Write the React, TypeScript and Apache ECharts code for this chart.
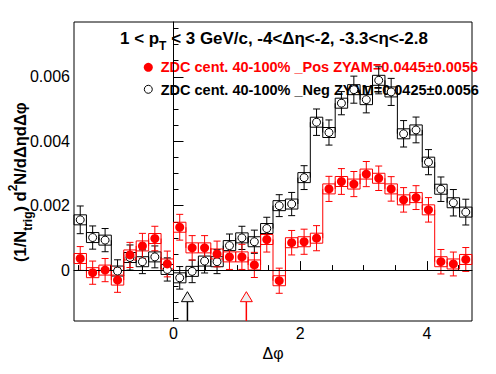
import React, { useEffect, useRef } from "react";
import * as echarts from "echarts";

const FONT = "'Liberation Sans', Arial, Helvetica, sans-serif";

const X_MIN = -Math.PI / 2;
const X_MAX = 1.5 * Math.PI;
const Y_MIN = -0.00158;
const Y_MAX = 0.0077;

const posName = "ZDC cent. 40-100% _Pos ZYAM=0.0445±0.0056";
const negName = "ZDC cent. 40-100% _Neg ZYAM=0.0425±0.0056";

const posValues = [
  0.00036, -0.00008, 0.0, -0.00031, 0.00047, 0.00075, 0.00098, 0.00019,
  0.00133, 0.00069, 0.00069, 0.0005, 0.00041, 0.00041, 0.00016, 0.00095,
  -0.00033, 0.00085, 0.00088, 0.00099, 0.00252, 0.00275, 0.00267, 0.00298,
  0.00285, 0.00252, 0.00218, 0.00225, 0.00187, 0.00026, 0.00019, 0.00033,
];
const posErrors = [
  0.00037, 0.00036, 0.00036, 0.00038, 0.00039, 0.00039, 0.00038, 0.0004,
  0.0004, 0.00038, 0.00038, 0.0004, 0.00039, 0.00039, 0.00039, 0.00039,
  0.00039, 0.00038, 0.00039, 0.00039, 0.00039, 0.0004, 0.00039, 0.00039,
  0.00038, 0.00038, 0.00038, 0.00037, 0.00038, 0.00038, 0.00037, 0.00037,
];
const negValues = [
  0.00156, 0.00101, 0.00093, -0.00003, 0.00039, 0.00026, 0.00041, 0.00002,
  -0.00024, -0.00004, 0.00028, 0.00026, 0.00076, 0.001, 0.00088, 0.00129,
  0.002, 0.00205, 0.00287, 0.00459, 0.00427, 0.00518, 0.0056, 0.00529,
  0.00589, 0.00553, 0.00423, 0.00435, 0.00335, 0.00251, 0.00209, 0.0018,
];
const negErrors = [
  0.00043, 0.00036, 0.00036, 0.00035, 0.00039, 0.00037, 0.00034, 0.00036,
  0.00035, 0.00035, 0.00037, 0.00037, 0.00036, 0.00036, 0.00036, 0.00035,
  0.00034, 0.00036, 0.00037, 0.00041, 0.00039, 0.00036, 0.00042, 0.00041,
  0.00042, 0.00042, 0.00041, 0.0004, 0.00039, 0.00038, 0.00041, 0.0004,
];

const arrowXs = [0.22, 1.15];
const arrowColors = ["#000000", "#ff0000"];
const arrowTipY = -0.00067;

const xMajorTicks = [0, 2, 4];
const xMinorTicks = [-1.5, -1, -0.5, 0.5, 1, 1.5, 2.5, 3, 3.5, 4.5];
const yMajorTicks = [0, 0.002, 0.004, 0.006];
const yMinorTicks = [
  -0.0015, -0.001, -0.0005, 0.0005, 0.001, 0.0015, 0.0025, 0.003, 0.0035,
  0.0045, 0.005, 0.0055, 0.0065, 0.007, 0.0075,
];

const titleParts = [
  { text: "1 < p", sub: false },
  { text: "T", sub: true },
  { text: " < 3 GeV/c, -4<Δη<-2, -3.3<η<-2.8", sub: false },
];
const yTitleParts = [
  { text: "(1/N", mode: 0 },
  { text: "trig", mode: 1 },
  { text: ") d", mode: 0 },
  { text: "2", mode: -1 },
  { text: "N/dΔηdΔφ", mode: 0 },
];

const N_BINS = posValues.length;
const BIN_W = (X_MAX - X_MIN) / N_BINS;
const binLo = posValues.map((_, i) => X_MIN + i * BIN_W);
const binCenters = posValues.map((_, i) => X_MIN + (i + 0.5) * BIN_W);

function measure(text: string, size: number, bold: boolean) {
  const ctx = document.createElement("canvas").getContext("2d")!;
  ctx.font = `${bold ? "bold " : ""}${size}px ${FONT}`;
  return ctx.measureText(text).width;
}

function histSeries(values: number[], color: string, name: string) {
  return {
    type: "custom",
    name,
    silent: true,
    z: 3,
    data: values.map((v, i) => [binLo[i], binLo[i] + BIN_W, v, i < values.length - 1 ? values[i + 1] : v]),
    encode: { x: [0, 1], y: 2 },
    renderItem: (params: any, api: any) => {
      const lo = api.value(0);
      const hi = api.value(1);
      const v = api.value(2);
      const nx = api.value(3);
      const a = api.coord([lo, v]);
      const b = api.coord([hi, v]);
      const children: any[] = [
        {
          type: "rect",
          shape: { x: a[0], y: a[1] - 5, width: b[0] - a[0], height: 10 },
          style: { fill: "none", stroke: color, lineWidth: 1 },
        },
      ];
      if (params.dataIndex < N_BINS - 1) {
        const c = api.coord([hi, nx]);
        children.push({
          type: "line",
          shape: { x1: b[0], y1: b[1], x2: c[0], y2: c[1] },
          style: { stroke: color, lineWidth: 1 },
        });
      }
      return { type: "group", children };
    },
  };
}

function errorSeries(values: number[], errors: number[], color: string) {
  return {
    type: "custom",
    silent: true,
    z: 4,
    data: values.map((v, i) => [binCenters[i], v, errors[i]]),
    encode: { x: 0, y: 1 },
    renderItem: (params: any, api: any) => {
      const x = api.value(0);
      const v = api.value(1);
      const e = api.value(2);
      const t = api.coord([x, v + e]);
      const b = api.coord([x, v - e]);
      const st = { stroke: color, lineWidth: 1 };
      return {
        type: "group",
        children: [
          { type: "line", shape: { x1: t[0], y1: t[1], x2: b[0], y2: b[1] }, style: st },
          { type: "line", shape: { x1: t[0] - 3.5, y1: t[1], x2: t[0] + 3.5, y2: t[1] }, style: st },
          { type: "line", shape: { x1: b[0] - 3.5, y1: b[1], x2: b[0] + 3.5, y2: b[1] }, style: st },
        ],
      };
    },
  };
}

export default function App() {
  const ref = useRef<HTMLDivElement>(null);
  useEffect(() => {
    document.body.style.margin = "0";
    const chart = echarts.init(ref.current!, null, { renderer: "svg" });

    // title: fit to span x 120..428
    const TITLE_W = 308;
    const baseMain = 17;
    const baseSub = 12;
    const baseW = titleParts.reduce((s, p) => s + measure(p.text, p.sub ? baseSub : baseMain, true), 0);
    const k = TITLE_W / baseW;
    const titleChildren: any[] = [];
    let cx = 120;
    for (const p of titleParts) {
      const size = (p.sub ? baseSub : baseMain) * k;
      titleChildren.push({
        type: "text",
        x: cx,
        y: p.sub ? 46 : 38,
        style: {
          text: p.text,
          fontSize: size,
          fontWeight: "bold",
          fontFamily: FONT,
          fill: "#000",
          align: "left",
          verticalAlign: "middle",
          textAlign: "left",
          textVerticalAlign: "middle",
        },
      });
      cx += measure(p.text, size, true);
    }

    // y title
    const yChildren: any[] = [];
    let yx = 0;
    for (const p of yTitleParts) {
      const size = p.mode === 0 ? 16.5 : 12;
      yChildren.push({
        type: "text",
        x: yx,
        y: p.mode === 1 ? 7.5 : p.mode === -1 ? -7.5 : 0,
        style: {
          text: p.text,
          fontSize: size,
          fontWeight: "bold",
          fontFamily: FONT,
          fill: "#000",
          align: "left",
          verticalAlign: "middle",
          textAlign: "left",
          textVerticalAlign: "middle",
        },
      });
      yx += measure(p.text, size, true);
    }

    const legendFont = { fontSize: 14.5, fontWeight: "bold", fontFamily: FONT };

    const option: any = {
      animation: false,
      backgroundColor: "#ffffff",
      grid: {
        left: 74,
        top: 22,
        width: 398,
        height: 299,
        show: true,
        borderColor: "#000",
        borderWidth: 1,
        backgroundColor: "transparent",
      },
      xAxis: [
        {
          type: "value",
          min: X_MIN,
          max: X_MAX,
          position: "bottom",
          axisLine: { show: true, lineStyle: { color: "#000", width: 1 } },
          axisTick: { show: true, inside: true, length: 9, customValues: xMajorTicks, lineStyle: { color: "#000" } },
          axisLabel: {
            show: true,
            customValues: xMajorTicks,
            margin: 4,
            fontSize: 16,
            color: "#000",
            fontFamily: FONT,
          },
          splitLine: { show: false },
          name: "Δφ",
          nameLocation: "middle",
          nameGap: 18,
          nameTextStyle: { fontSize: 16, color: "#000", fontFamily: FONT },
        },
        {
          type: "value",
          min: X_MIN,
          max: X_MAX,
          position: "bottom",
          axisLine: { show: false },
          axisTick: { show: true, inside: true, length: 5, customValues: xMinorTicks, lineStyle: { color: "#000" } },
          axisLabel: { show: false },
          splitLine: { show: false },
        },
      ],
      yAxis: [
        {
          type: "value",
          min: Y_MIN,
          max: Y_MAX,
          position: "left",
          axisLine: { show: true, lineStyle: { color: "#000", width: 1 } },
          axisTick: { show: true, inside: true, length: 10, customValues: yMajorTicks, lineStyle: { color: "#000" } },
          axisLabel: {
            show: true,
            customValues: yMajorTicks,
            margin: 4,
            fontSize: 16,
            color: "#000",
            fontFamily: FONT,
          },
          splitLine: { show: false },
        },
        {
          type: "value",
          min: Y_MIN,
          max: Y_MAX,
          position: "left",
          axisLine: { show: false },
          axisTick: { show: true, inside: true, length: 5, customValues: yMinorTicks, lineStyle: { color: "#000" } },
          axisLabel: { show: false },
          splitLine: { show: false },
        },
      ],
      graphic: [
        { type: "group", children: titleChildren },
        { type: "group", x: 20, y: 262, rotation: Math.PI / 2, children: yChildren },
        { type: "circle", shape: { cx: 148.3, cy: 67.3, r: 4.5 }, style: { fill: "#ff0000" } },
        {
          type: "text",
          x: 160.7,
          y: 67.3,
          style: { text: posName, ...legendFont, fill: "#ff0000", verticalAlign: "middle", textVerticalAlign: "middle" },
        },
        { type: "circle", shape: { cx: 148.3, cy: 89.3, r: 4 }, style: { fill: "#fff", stroke: "#000", lineWidth: 1 } },
        {
          type: "text",
          x: 160.7,
          y: 89.5,
          style: { text: negName, ...legendFont, fill: "#000", verticalAlign: "middle", textVerticalAlign: "middle" },
        },
      ],
      series: [
        {
          ...histSeries(negValues, "#000000", "negHist"),
          markLine: {
            silent: true,
            symbol: "none",
            label: { show: false },
            lineStyle: { color: "#000", width: 1, type: "solid" },
            data: [{ yAxis: 0 }],
          },
        },
        errorSeries(negValues, negErrors, "#000000"),
        {
          type: "scatter",
          name: negName,
          z: 5,
          symbol: "circle",
          symbolSize: 8,
          data: negValues.map((v, i) => [binCenters[i], v]),
          itemStyle: { color: "#ffffff", borderColor: "#000000", borderWidth: 1, opacity: 1 },
          silent: true,
        },
        histSeries(posValues, "#ff0000", "posHist"),
        errorSeries(posValues, posErrors, "#ff0000"),
        {
          type: "scatter",
          name: posName,
          z: 6,
          symbol: "circle",
          symbolSize: 9,
          data: posValues.map((v, i) => [binCenters[i], v]),
          itemStyle: { color: "#ff0000", opacity: 1 },
          silent: true,
        },
        {
          type: "custom",
          silent: true,
          z: 7,
          data: arrowXs.map((x, i) => [x, arrowTipY, i]),
          encode: { x: 0, y: 1 },
          renderItem: (params: any, api: any) => {
            const x = api.value(0);
            const y = api.value(1);
            const color = arrowColors[api.value(2)];
            const tip = api.coord([x, y]);
            const bot = api.coord([x, Y_MIN]);
            return {
              type: "group",
              children: [
                {
                  type: "line",
                  shape: { x1: tip[0], y1: tip[1] + 10, x2: bot[0], y2: bot[1] },
                  style: { stroke: color, lineWidth: 1.5 },
                },
                {
                  type: "polygon",
                  shape: { points: [[tip[0], tip[1]], [tip[0] - 6, tip[1] + 10], [tip[0] + 6, tip[1] + 10]] },
                  style: { fill: "#eeeeee", stroke: color, lineWidth: 1 },
                },
              ],
            };
          },
        },
      ],
    };
    chart.setOption(option);
    return () => chart.dispose();
  }, []);
  return <div ref={ref} style={{ width: 496, height: 374 }} />;
}
